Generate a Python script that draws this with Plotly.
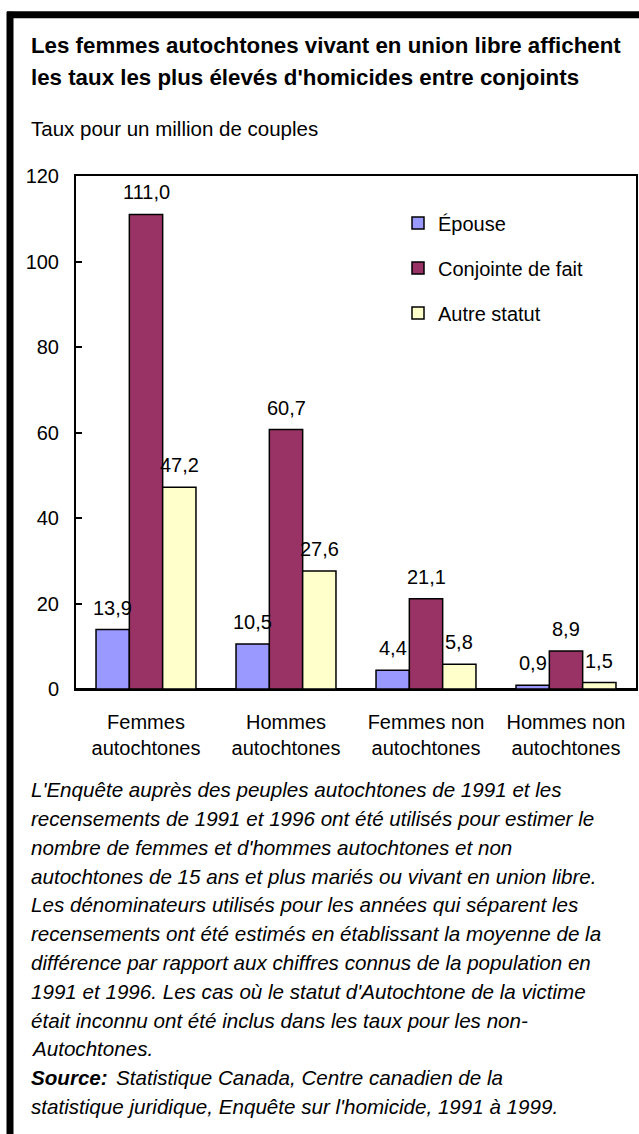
import plotly.graph_objects as go

categories = ["Femmes<br>autochtones", "Hommes<br>autochtones", "Femmes non<br>autochtones", "Hommes non<br>autochtones"]
series_names = ["Épouse", "Conjointe de fait", "Autre statut"]
epouse = [13.9, 10.5, 4.4, 0.9]
conjointe = [111.0, 60.7, 21.1, 8.9]
autre = [47.2, 27.6, 5.8, 1.5]
series_values = [epouse, conjointe, autre]
colors = ["#9999FF", "#993366", "#FFFFCC"]
y_ticks = [0, 20, 40, 60, 80, 100, 120]

title_lines = [
    "Les femmes autochtones vivant en union libre affichent",
    "les taux les plus élevés d'homicides entre conjoints",
]
subtitle = "Taux pour un million de couples"
note_lines = [
    "L'Enquête auprès des peuples autochtones de 1991 et les",
    "recensements de 1991 et 1996 ont été utilisés pour estimer le",
    "nombre de femmes et d'hommes autochtones et non",
    "autochtones de 15 ans et plus mariés ou vivant en union libre.",
    "Les dénominateurs utilisés pour les années qui séparent les",
    "recensements ont été estimés en établissant la moyenne de la",
    "différence par rapport aux chiffres connus de la population en",
    "1991 et 1996. Les cas où le statut d'Autochtone de la victime",
    "était inconnu ont été inclus dans les taux pour les non-",
    "Autochtones.",
]
source_label = "Source:"
source_lines = [
    "Statistique Canada, Centre canadien de la",
    "statistique juridique, Enquête sur l'homicide, 1991 à 1999.",
]

W, H = 639, 1134
L, R, T, B = 76, 636, 175.5, 689
FONT = "Liberation Sans, Arial, Helvetica, sans-serif"
FS = 20
NOTE_FS = 20.6
NOTE_TOP, NOTE_STEP = 790, 28.8
BARGAP = 0.286


def px(x):
    return (x - L) / (R - L)


def py(y):
    return (B - y) / (B - T)


fig = go.Figure()
for name, vals, col in zip(series_names, series_values, colors):
    fig.add_trace(go.Bar(
        name=name, x=categories, y=vals,
        marker=dict(color=col, line=dict(color="black", width=1.5)),
        legendgroup=name,
    ))

# value labels
bw = (1 - BARGAP) / 3
annotations = []
for j, vals in enumerate(series_values):
    for i, v in enumerate(vals):
        annotations.append(dict(
            x=i + (j - 1) * bw, y=v, xref="x", yref="y",
            text=f"{v:.1f}".replace(".", ","), showarrow=False,
            yanchor="bottom", yshift=9,
            font=dict(family=FONT, size=FS, color="black"),
        ))

# titles
for k, line in enumerate(title_lines):
    annotations.append(dict(
        x=px(29), y=py(45 + 32 * k), xref="paper", yref="paper",
        text=f"<b>{line}</b>", showarrow=False, xanchor="left", yanchor="middle",
        font=dict(family=FONT, size=22.3, color="black"),
    ))
annotations.append(dict(
    x=px(29), y=py(128), xref="paper", yref="paper",
    text=subtitle, showarrow=False, xanchor="left", yanchor="middle",
    font=dict(family=FONT, size=20.5, color="black"),
))
annotations.append(dict(
    x=px(14), y=py(1), xref="paper", yref="paper",
    text="<b>Figure 5</b>", showarrow=False, xanchor="left", yanchor="bottom",
    font=dict(family=FONT, size=FS, color="black"),
))

for k, line in enumerate(note_lines):
    annotations.append(dict(
        x=px(29), y=py(NOTE_TOP + NOTE_STEP * k), xref="paper", yref="paper",
        text=f"<i>{line}</i>", showarrow=False, xanchor="left", yanchor="middle",
        font=dict(family=FONT, size=NOTE_FS, color="black"),
    ))
annotations.append(dict(
    x=px(29), y=py(NOTE_TOP + NOTE_STEP * 10), xref="paper", yref="paper",
    text=f"<b><i>{source_label}</i></b>", showarrow=False, xanchor="left", yanchor="middle",
    font=dict(family=FONT, size=NOTE_FS, color="black"),
))
annotations.append(dict(
    x=px(114), y=py(NOTE_TOP + NOTE_STEP * 10), xref="paper", yref="paper",
    text=f"<i>{source_lines[0]}</i>", showarrow=False, xanchor="left", yanchor="middle",
    font=dict(family=FONT, size=NOTE_FS, color="black"),
))
annotations.append(dict(
    x=px(29), y=py(NOTE_TOP + NOTE_STEP * 11), xref="paper", yref="paper",
    text=f"<i>{source_lines[1]}</i>", showarrow=False, xanchor="left", yanchor="middle",
    font=dict(family=FONT, size=NOTE_FS, color="black"),
))

shapes = [
    dict(type="line", xref="paper", yref="paper", x0=px(7), x1=px(650), y0=py(14), y1=py(14),
         line=dict(color="black", width=7)),
    dict(type="line", xref="paper", yref="paper", x0=px(10), x1=px(10), y0=py(11), y1=py(1150),
         line=dict(color="black", width=7)),
]

fig.update_layout(
    width=W, height=H,
    margin=dict(l=L, r=W - R, t=T, b=H - B, autoexpand=False),
    paper_bgcolor="white", plot_bgcolor="white",
    barmode="group", bargap=BARGAP, bargroupgap=0,
    font=dict(family=FONT, size=FS, color="black"),
    showlegend=True,
    legend=dict(
        x=px(398), y=py(203), xanchor="left", yanchor="top",
        font=dict(family=FONT, size=FS, color="black"),
        bgcolor="rgba(0,0,0,0)", traceorder="grouped", tracegroupgap=16,
        itemclick=False,
    ),
    annotations=annotations,
    shapes=shapes,
)
fig.update_xaxes(
    showline=True, linecolor="black", linewidth=2, mirror=True,
    ticks="", showgrid=False, ticklabelstandoff=14,
    tickfont=dict(family=FONT, size=FS, color="black"),
)
fig.update_yaxes(
    range=[0, 120], tickvals=y_ticks, showline=True, linecolor="black", linewidth=2,
    mirror=True, ticks="inside", ticklen=6, tickwidth=1.5, tickcolor="black",
    showgrid=False, zeroline=True, zerolinecolor="black", zerolinewidth=3,
    ticklabelstandoff=11, tickfont=dict(family=FONT, size=FS, color="black"),
)

fig.write_html(
    "out.html",
    config={"displayModeBar": False},
    post_script="document.body.style.margin='0';document.body.style.padding='0';",
)
